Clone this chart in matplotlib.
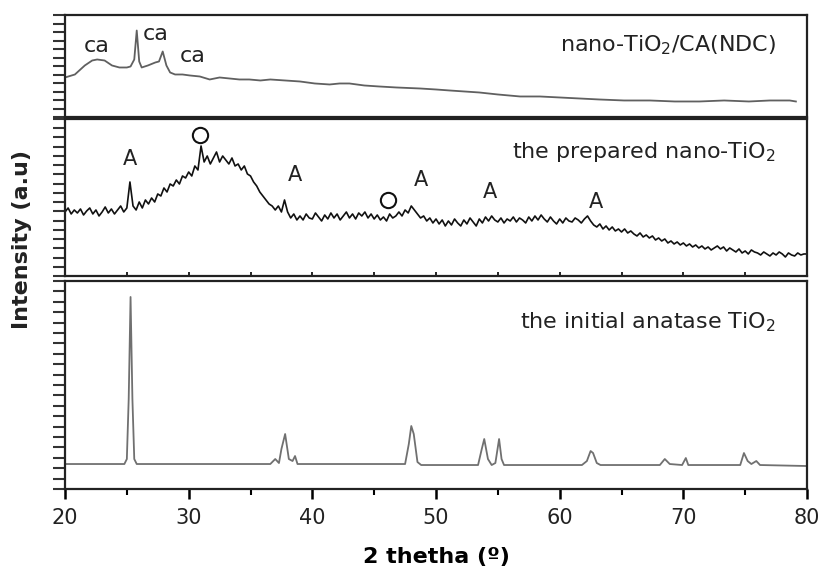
import numpy as np
import matplotlib
matplotlib.use("Agg")
import matplotlib.pyplot as plt
from matplotlib.ticker import MultipleLocator, FixedLocator, NullFormatter

# --- data (intensity in arbitrary units) ---

# top panel: nano-TiO2/CA(NDC)
top_x = [20.0, 20.8, 21.6, 22.2, 22.6, 23.2, 23.8, 24.4, 25.0, 25.3, 25.6, 25.8,
         26.0, 26.2, 26.7, 27.3, 27.6, 27.9, 28.2, 28.5, 28.9, 29.5, 30.1, 30.9,
         31.7, 32.5, 33.3, 34.1, 34.9, 35.8, 36.6, 37.8, 39.0, 40.2, 41.4, 42.2,
         43.0, 44.2, 45.4, 46.8, 48.7, 50.0, 51.1, 52.3, 53.5, 55.0, 56.8, 58.4,
         60.0, 61.6, 63.2, 65.2, 67.3, 69.3, 71.3, 73.3, 75.3, 77.0, 78.6, 79.1]
top_y = [40, 43, 52, 57, 58, 57, 52, 50, 50, 51, 58, 87,
         56, 50, 52, 55, 56, 66, 52, 45, 43, 43, 42, 41,
         38, 40, 39, 38, 38, 37, 38, 37, 36, 34, 33, 34,
         34, 32, 31, 30, 29, 28, 27, 26, 25, 23, 21, 21,
         20, 19, 18, 17, 17, 16, 16, 17, 16, 17, 17, 16]

# middle panel: the prepared nano-TiO2, sampled every 0.25 deg from 20 to 80
mid_y = [64, 68, 62, 66, 63, 67, 61, 65, 68, 62, 66, 60, 64, 69, 63, 67,
         62, 66, 70, 64, 68, 94, 70, 66, 74, 68, 76, 72, 78, 74, 82, 80,
         88, 84, 92, 90, 96, 92, 100, 98, 104, 100, 110, 106, 130, 114, 120, 112,
         118, 124, 114, 120, 116, 112, 118, 110, 112, 106, 110, 102, 100, 94, 90, 84,
         80, 76, 72, 70, 66, 70, 64, 76, 64, 58, 62, 56, 60, 56, 62, 58,
         57, 63, 59, 55, 61, 57, 63, 58, 62, 56, 60, 64, 58, 62, 57, 63,
         60, 64, 58, 62, 57, 61, 56, 59, 55, 62, 58, 60, 64, 60, 66, 63,
         70, 66, 62, 58, 60, 55, 58, 53, 57, 52, 56, 50, 55, 51, 57, 53,
         50, 56, 52, 58, 54, 50, 57, 53, 59, 55, 60, 56, 54, 58, 53, 57,
         55, 59, 54, 58, 56, 53, 59, 55, 60, 56, 61, 57, 54, 59, 55, 52,
         57, 53, 58, 55, 54, 58, 56, 53, 57, 60, 55, 51, 49, 52, 47, 50,
         46, 49, 45, 47, 44, 47, 43, 45, 42, 40, 43, 39, 41, 38, 40, 36,
         38, 35, 37, 33, 35, 32, 34, 31, 33, 30, 32, 29, 31, 28, 30, 27,
         29, 26, 28, 30, 27, 29, 25, 28, 26, 24, 27, 23, 25, 22, 26, 24,
         23, 21, 24, 22, 20, 23, 21, 24, 22, 19, 23, 21, 20, 23, 21, 22,
         22]
mid_x = np.linspace(20, 80, len(mid_y))

# bottom panel: the initial anatase TiO2
bot_x = [20.0, 24.8, 25.0, 25.15, 25.3, 25.45, 25.6, 25.8, 36.6, 37.0, 37.3, 37.5,
         37.8, 38.1, 38.4, 38.6, 38.8, 47.5, 47.8, 48.0, 48.2, 48.5, 48.8, 53.4,
         53.7, 53.9, 54.2, 54.5, 54.8, 55.1, 55.3, 55.5, 61.8, 62.2, 62.5, 62.7,
         63.0, 63.3, 68.1, 68.5, 68.9, 69.9, 70.2, 70.4, 74.6, 74.9, 75.2, 75.5,
         75.9, 76.2, 80.0]
bot_y = [25, 25, 30, 90, 192, 90, 30, 25, 25, 30, 26, 40,
         55, 30, 28, 33, 25, 25, 45, 63, 55, 27, 24, 24,
         40, 50, 30, 24, 26, 50, 30, 24, 24, 28, 38, 36,
         26, 24, 24, 30, 25, 24, 31, 24, 24, 36, 28, 25,
         28, 24, 23]

# peak annotations
ca_x = [22.6, 27.3, 30.3]
ca_y = [71, 83, 61]
a_x = [25.25, 38.6, 48.8, 54.4, 62.9]
a_y = [117, 101, 96, 84, 74]
o_x = [30.9, 46.1]
o_y = [141, 76]

labels = ["nano-TiO$_2$/CA(NDC)", "the prepared nano-TiO$_2$",
          "the initial anatase TiO$_2$"]
label_y = [0.64, 0.75, 0.77]

plt.rcParams['font.family'] = ['DejaVu Sans']
plt.rcParams['mathtext.fontset'] = 'dejavusans'

fig = plt.figure(figsize=(8.25, 5.81), dpi=100)
left, width = 0.0788, 0.8994
ax_top = fig.add_axes([left, 0.7978, width, 0.1764])
ax_mid = fig.add_axes([left, 0.5250, width, 0.2702])
ax_bot = fig.add_axes([left, 0.1583, width, 0.3581])

ax_top.plot(top_x, top_y, color='#606060', lw=1.3)
ax_mid.plot(mid_x, mid_y, color='#111111', lw=1.2)
ax_bot.plot(bot_x, bot_y, color='#707070', lw=1.3)

ylims = [(0, 102.5), (0, 157), (0, 208)]
nticks = [12, 17, 20]
for ax, yl, n, lab, ly in zip([ax_top, ax_mid, ax_bot], ylims, nticks, labels, label_y):
    ax.set_xlim(20, 80)
    ax.set_ylim(*yl)
    for s in ax.spines.values():
        s.set_linewidth(1.6)
        s.set_color('#222222')
    ax.yaxis.set_major_locator(FixedLocator(np.linspace(yl[0], yl[1], n + 1)))
    ax.yaxis.set_major_formatter(NullFormatter())
    ax.tick_params(axis='y', direction='out', length=9, width=1.5, color='#333333')
    ax.text(0.958, ly, lab, fontsize=16, color='#222222', ha='right',
            transform=ax.transAxes)

# top panel has its own (unlabelled) x ticks
ax_top.xaxis.set_major_locator(FixedLocator(np.linspace(20, 79.1, 14)))
ax_top.xaxis.set_major_formatter(NullFormatter())
ax_top.tick_params(axis='x', direction='out', length=4, width=1.5)
ax_mid.xaxis.set_major_locator(MultipleLocator(5))
ax_mid.xaxis.set_major_formatter(NullFormatter())
ax_mid.tick_params(axis='x', direction='in', length=3, width=1.2)

ax_bot.xaxis.set_major_locator(MultipleLocator(10))
ax_bot.xaxis.set_minor_locator(MultipleLocator(5))
ax_bot.tick_params(axis='x', which='major', direction='out', length=7, width=1.8,
                   labelsize=15, labelcolor='#222222', pad=7)
ax_bot.tick_params(axis='x', which='minor', direction='out', length=4, width=1.5)

for x, y in zip(ca_x, ca_y):
    ax_top.text(x, y, "ca", fontsize=16, color='#222222', ha='center', va='center')
for x, y in zip(a_x, a_y):
    ax_mid.text(x, y, "A", fontsize=15, color='#222222', ha='center', va='center')
ax_mid.plot(o_x, o_y, 'o', ms=11, mfc='white', mec='#111111', mew=1.5)

ax_bot.set_xlabel("2 thetha (º)", fontsize=16, fontweight='bold', labelpad=13)
fig.text(0.027, 0.587, "Intensity (a.u)", fontsize=16, fontweight='bold',
         rotation=90, ha='center', va='center', color='#222222')

fig.savefig("out.png", dpi=100)
